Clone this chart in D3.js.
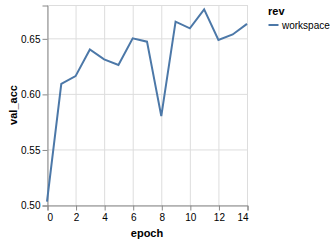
<!DOCTYPE html>
<html lang="en">
<head>
  <meta charset="UTF-8">
  <title></title>
  <script src="https://d3js.org/d3.v7.min.js"></script>
  <style>
    body { margin: 0; background: #fff; }
    text { font-family: "Liberation Sans", Arial, sans-serif; }
  </style>
</head>
<body>
  <svg width="336" height="242"></svg>
  <script>
    const epochs = [0, 1, 2, 3, 4, 5, 6, 7, 8, 9, 10, 11, 12, 13, 14];
    const valAcc = [0.503, 0.609, 0.616, 0.640, 0.631, 0.626, 0.650, 0.647, 0.580, 0.665, 0.659, 0.676, 0.6485, 0.6535, 0.663];
    const xTicks = [0, 2, 4, 6, 8, 10, 12, 14];
    const yTicks = [0.50, 0.55, 0.60, 0.65];
    const seriesName = "workspace";

    const data = epochs.map((e, i) => ({epoch: e, acc: valAcc[i]}));

    const svg = d3.select("svg");
    const margin = {top: 5, left: 47};
    const innerWidth = 200, innerHeight = 200;
    const g = svg.append("g").attr("transform", `translate(${margin.left},${margin.top})`);

    const x = d3.scaleLinear().domain([0, 14]).range([0, innerWidth]);
    const y = d3.scaleLinear().domain([0.5, 0.68]).range([innerHeight, 0]);

    // grid
    g.append("g").selectAll("line").data(xTicks).join("line")
      .attr("x1", d => x(d) + 0.5).attr("x2", d => x(d) + 0.5)
      .attr("y1", 0).attr("y2", innerHeight)
      .attr("stroke", "#ddd");
    g.append("g").selectAll("line").data(yTicks).join("line")
      .attr("x1", 0).attr("x2", innerWidth)
      .attr("y1", d => y(d) + 0.5).attr("y2", d => y(d) + 0.5)
      .attr("stroke", "#ddd");
    // view border
    g.append("rect")
      .attr("x", 0.5).attr("y", 0.5)
      .attr("width", innerWidth).attr("height", innerHeight)
      .attr("fill", "none").attr("stroke", "#ddd");

    // axes
    const xAxis = g.append("g")
      .attr("transform", `translate(0.5,${innerHeight + 0.5})`)
      .call(d3.axisBottom(x).tickValues(xTicks).tickSize(5).tickPadding(3).tickFormat(d3.format("d")));
    const yAxis = g.append("g")
      .attr("transform", "translate(0.5,0.5)")
      .call(d3.axisLeft(y).tickValues(yTicks).tickSize(5).tickPadding(2).tickFormat(d3.format(".2f")));
    [xAxis, yAxis].forEach(a => {
      a.select(".domain").attr("stroke", "#888");
      a.selectAll(".tick line").attr("stroke", "#888");
      a.selectAll(".tick text").attr("fill", "#000").attr("font-size", 10)
        .attr("font-family", "Liberation Sans, Arial, sans-serif");
    });
    xAxis.selectAll(".tick text")
      .attr("text-anchor", (d, i, n) => i === 0 ? "start" : (i === n.length - 1 ? "end" : "middle"))
      .attr("dx", (d, i, n) => i === 0 ? -0.5 : (i === n.length - 1 ? 0.5 : 0));

    // line
    const line = d3.line().x(d => x(d.epoch)).y(d => y(d.acc));
    g.append("path")
      .datum(data)
      .attr("fill", "none")
      .attr("stroke", "#4c78a8")
      .attr("stroke-width", 2)
      .attr("d", line);

    // axis titles
    svg.append("text")
      .attr("x", margin.left + innerWidth / 2)
      .attr("y", 237)
      .attr("text-anchor", "middle")
      .attr("font-size", 11).attr("font-weight", "bold")
      .text("epoch");
    svg.append("text")
      .attr("transform", `translate(17,${margin.top + innerHeight / 2}) rotate(-90)`)
      .attr("text-anchor", "middle")
      .attr("font-size", 11).attr("font-weight", "bold")
      .text("val_acc");

    // legend
    const legend = svg.append("g").attr("transform", "translate(268,0)");
    legend.append("text")
      .attr("x", 0).attr("y", 15)
      .attr("font-size", 11).attr("font-weight", "bold")
      .text("rev");
    legend.append("line")
      .attr("x1", 0.5).attr("x2", 10.5)
      .attr("y1", 25).attr("y2", 25)
      .attr("stroke", "#4c78a8").attr("stroke-width", 2);
    legend.append("text")
      .attr("x", 14).attr("y", 28.5)
      .attr("font-size", 10)
      .text(seriesName);
  </script>
</body>
</html>
